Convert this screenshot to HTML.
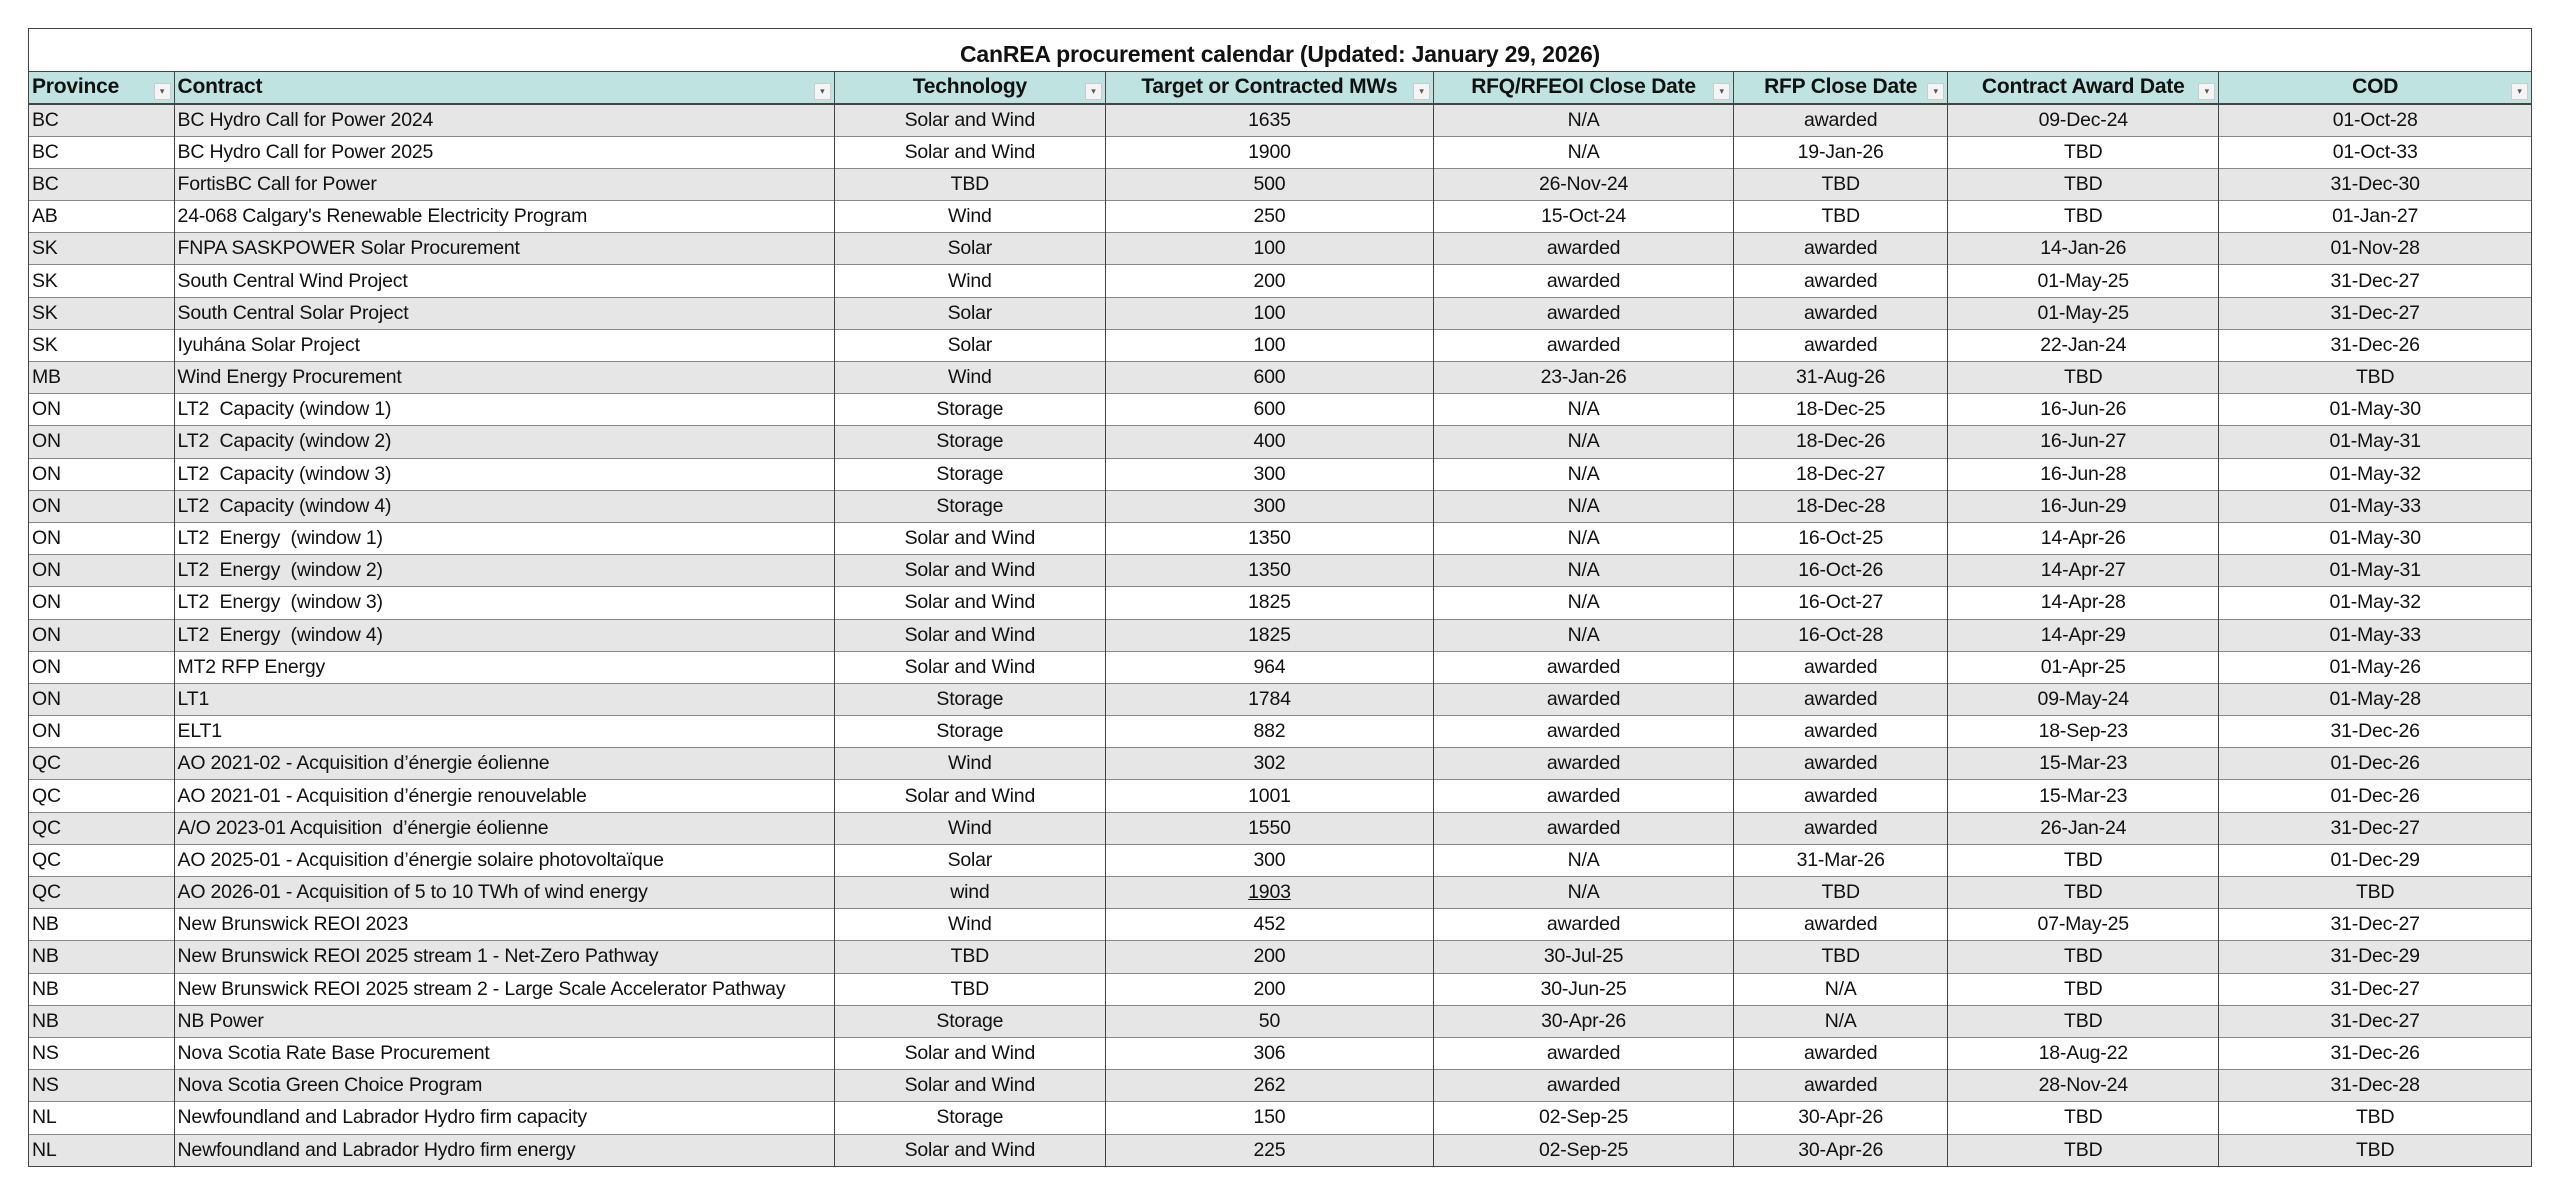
<!DOCTYPE html>
<html><head><meta charset="utf-8">
<style>
html,body{margin:0;padding:0;background:#fff;}
body{width:2560px;height:1202px;position:relative;overflow:hidden;font-family:"Liberation Sans",Arial,sans-serif;color:#111;}
#t{position:absolute;left:28px;top:28px;width:2504px;border:1.5px solid #444;box-sizing:border-box;}
table{border-collapse:collapse;table-layout:fixed;width:100%;}
td{height:32.2px;padding:0 3px;font-size:19.5px;white-space:nowrap;overflow:hidden;border-left:1px solid #444;border-top:1.5px solid #888;box-sizing:border-box;letter-spacing:-0.2px;}
td:first-child{border-left:none;}
td.c{text-align:center;}
tr.g td{background:#e6e6e6;}
.title td{height:42px;text-align:center;font-weight:bold;font-size:23px;border-top:none;border-left:none;padding-top:10px;}
.hd td{background:#bfe3e1;font-weight:bold;font-size:21px;height:33px;position:relative;border-top:1.5px solid #444;border-bottom:2px solid #444;}
.dd{position:absolute;right:3px;bottom:3px;width:15px;height:15px;background:#f4f4f4;border:1px solid #ccc;font-size:9px;line-height:15px;text-align:center;color:#555;font-weight:normal;}
</style></head><body>
<div id="t"><table>
<colgroup><col style="width:145px"><col style="width:660px"><col style="width:271px"><col style="width:328px"><col style="width:300px"><col style="width:214px"><col style="width:271px"><col style="width:312px"></colgroup>
<tr class="title"><td colspan="8">CanREA procurement calendar (Updated: January 29, 2026)</td></tr>
<tr class="hd"><td>Province<span class="dd">▾</span></td><td>Contract<span class="dd">▾</span></td><td class="c">Technology<span class="dd">▾</span></td><td class="c">Target or Contracted MWs<span class="dd">▾</span></td><td class="c">RFQ/RFEOI Close Date<span class="dd">▾</span></td><td class="c">RFP Close Date<span class="dd">▾</span></td><td class="c">Contract Award Date<span class="dd">▾</span></td><td class="c">COD<span class="dd">▾</span></td></tr>
<tr class="g"><td>BC</td><td>BC Hydro Call for Power 2024</td><td class="c">Solar and Wind</td><td class="c">1635</td><td class="c">N/A</td><td class="c">awarded</td><td class="c">09-Dec-24</td><td class="c">01-Oct-28</td></tr>
<tr><td>BC</td><td>BC Hydro Call for Power 2025</td><td class="c">Solar and Wind</td><td class="c">1900</td><td class="c">N/A</td><td class="c">19-Jan-26</td><td class="c">TBD</td><td class="c">01-Oct-33</td></tr>
<tr class="g"><td>BC</td><td>FortisBC Call for Power</td><td class="c">TBD</td><td class="c">500</td><td class="c">26-Nov-24</td><td class="c">TBD</td><td class="c">TBD</td><td class="c">31-Dec-30</td></tr>
<tr><td>AB</td><td>24-068 Calgary's Renewable Electricity Program</td><td class="c">Wind</td><td class="c">250</td><td class="c">15-Oct-24</td><td class="c">TBD</td><td class="c">TBD</td><td class="c">01-Jan-27</td></tr>
<tr class="g"><td>SK</td><td>FNPA SASKPOWER Solar Procurement</td><td class="c">Solar</td><td class="c">100</td><td class="c">awarded</td><td class="c">awarded</td><td class="c">14-Jan-26</td><td class="c">01-Nov-28</td></tr>
<tr><td>SK</td><td>South Central Wind Project</td><td class="c">Wind</td><td class="c">200</td><td class="c">awarded</td><td class="c">awarded</td><td class="c">01-May-25</td><td class="c">31-Dec-27</td></tr>
<tr class="g"><td>SK</td><td>South Central Solar Project</td><td class="c">Solar</td><td class="c">100</td><td class="c">awarded</td><td class="c">awarded</td><td class="c">01-May-25</td><td class="c">31-Dec-27</td></tr>
<tr><td>SK</td><td>Iyuhána Solar Project</td><td class="c">Solar</td><td class="c">100</td><td class="c">awarded</td><td class="c">awarded</td><td class="c">22-Jan-24</td><td class="c">31-Dec-26</td></tr>
<tr class="g"><td>MB</td><td>Wind Energy Procurement</td><td class="c">Wind</td><td class="c">600</td><td class="c">23-Jan-26</td><td class="c">31-Aug-26</td><td class="c">TBD</td><td class="c">TBD</td></tr>
<tr><td>ON</td><td>LT2&nbsp; Capacity (window 1)</td><td class="c">Storage</td><td class="c">600</td><td class="c">N/A</td><td class="c">18-Dec-25</td><td class="c">16-Jun-26</td><td class="c">01-May-30</td></tr>
<tr class="g"><td>ON</td><td>LT2&nbsp; Capacity (window 2)</td><td class="c">Storage</td><td class="c">400</td><td class="c">N/A</td><td class="c">18-Dec-26</td><td class="c">16-Jun-27</td><td class="c">01-May-31</td></tr>
<tr><td>ON</td><td>LT2&nbsp; Capacity (window 3)</td><td class="c">Storage</td><td class="c">300</td><td class="c">N/A</td><td class="c">18-Dec-27</td><td class="c">16-Jun-28</td><td class="c">01-May-32</td></tr>
<tr class="g"><td>ON</td><td>LT2&nbsp; Capacity (window 4)</td><td class="c">Storage</td><td class="c">300</td><td class="c">N/A</td><td class="c">18-Dec-28</td><td class="c">16-Jun-29</td><td class="c">01-May-33</td></tr>
<tr><td>ON</td><td>LT2&nbsp; Energy&nbsp; (window 1)</td><td class="c">Solar and Wind</td><td class="c">1350</td><td class="c">N/A</td><td class="c">16-Oct-25</td><td class="c">14-Apr-26</td><td class="c">01-May-30</td></tr>
<tr class="g"><td>ON</td><td>LT2&nbsp; Energy&nbsp; (window 2)</td><td class="c">Solar and Wind</td><td class="c">1350</td><td class="c">N/A</td><td class="c">16-Oct-26</td><td class="c">14-Apr-27</td><td class="c">01-May-31</td></tr>
<tr><td>ON</td><td>LT2&nbsp; Energy&nbsp; (window 3)</td><td class="c">Solar and Wind</td><td class="c">1825</td><td class="c">N/A</td><td class="c">16-Oct-27</td><td class="c">14-Apr-28</td><td class="c">01-May-32</td></tr>
<tr class="g"><td>ON</td><td>LT2&nbsp; Energy&nbsp; (window 4)</td><td class="c">Solar and Wind</td><td class="c">1825</td><td class="c">N/A</td><td class="c">16-Oct-28</td><td class="c">14-Apr-29</td><td class="c">01-May-33</td></tr>
<tr><td>ON</td><td>MT2 RFP Energy</td><td class="c">Solar and Wind</td><td class="c">964</td><td class="c">awarded</td><td class="c">awarded</td><td class="c">01-Apr-25</td><td class="c">01-May-26</td></tr>
<tr class="g"><td>ON</td><td>LT1</td><td class="c">Storage</td><td class="c">1784</td><td class="c">awarded</td><td class="c">awarded</td><td class="c">09-May-24</td><td class="c">01-May-28</td></tr>
<tr><td>ON</td><td>ELT1</td><td class="c">Storage</td><td class="c">882</td><td class="c">awarded</td><td class="c">awarded</td><td class="c">18-Sep-23</td><td class="c">31-Dec-26</td></tr>
<tr class="g"><td>QC</td><td>AO 2021-02 - Acquisition d’énergie éolienne</td><td class="c">Wind</td><td class="c">302</td><td class="c">awarded</td><td class="c">awarded</td><td class="c">15-Mar-23</td><td class="c">01-Dec-26</td></tr>
<tr><td>QC</td><td>AO 2021-01 - Acquisition d’énergie renouvelable</td><td class="c">Solar and Wind</td><td class="c">1001</td><td class="c">awarded</td><td class="c">awarded</td><td class="c">15-Mar-23</td><td class="c">01-Dec-26</td></tr>
<tr class="g"><td>QC</td><td>A/O 2023-01 Acquisition&nbsp; d’énergie éolienne</td><td class="c">Wind</td><td class="c">1550</td><td class="c">awarded</td><td class="c">awarded</td><td class="c">26-Jan-24</td><td class="c">31-Dec-27</td></tr>
<tr><td>QC</td><td>AO 2025-01 - Acquisition d’énergie solaire photovoltaïque</td><td class="c">Solar</td><td class="c">300</td><td class="c">N/A</td><td class="c">31-Mar-26</td><td class="c">TBD</td><td class="c">01-Dec-29</td></tr>
<tr class="g"><td>QC</td><td>AO 2026-01 - Acquisition of 5 to 10 TWh of wind energy</td><td class="c">wind</td><td class="c"><u>1903</u></td><td class="c">N/A</td><td class="c">TBD</td><td class="c">TBD</td><td class="c">TBD</td></tr>
<tr><td>NB</td><td>New Brunswick REOI 2023</td><td class="c">Wind</td><td class="c">452</td><td class="c">awarded</td><td class="c">awarded</td><td class="c">07-May-25</td><td class="c">31-Dec-27</td></tr>
<tr class="g"><td>NB</td><td>New Brunswick REOI 2025 stream 1 - Net-Zero Pathway</td><td class="c">TBD</td><td class="c">200</td><td class="c">30-Jul-25</td><td class="c">TBD</td><td class="c">TBD</td><td class="c">31-Dec-29</td></tr>
<tr><td>NB</td><td>New Brunswick REOI 2025 stream 2 - Large Scale Accelerator Pathway</td><td class="c">TBD</td><td class="c">200</td><td class="c">30-Jun-25</td><td class="c">N/A</td><td class="c">TBD</td><td class="c">31-Dec-27</td></tr>
<tr class="g"><td>NB</td><td>NB Power</td><td class="c">Storage</td><td class="c">50</td><td class="c">30-Apr-26</td><td class="c">N/A</td><td class="c">TBD</td><td class="c">31-Dec-27</td></tr>
<tr><td>NS</td><td>Nova Scotia Rate Base Procurement</td><td class="c">Solar and Wind</td><td class="c">306</td><td class="c">awarded</td><td class="c">awarded</td><td class="c">18-Aug-22</td><td class="c">31-Dec-26</td></tr>
<tr class="g"><td>NS</td><td>Nova Scotia Green Choice Program</td><td class="c">Solar and Wind</td><td class="c">262</td><td class="c">awarded</td><td class="c">awarded</td><td class="c">28-Nov-24</td><td class="c">31-Dec-28</td></tr>
<tr><td>NL</td><td>Newfoundland and Labrador Hydro firm capacity</td><td class="c">Storage</td><td class="c">150</td><td class="c">02-Sep-25</td><td class="c">30-Apr-26</td><td class="c">TBD</td><td class="c">TBD</td></tr>
<tr class="g"><td>NL</td><td>Newfoundland and Labrador Hydro firm energy</td><td class="c">Solar and Wind</td><td class="c">225</td><td class="c">02-Sep-25</td><td class="c">30-Apr-26</td><td class="c">TBD</td><td class="c">TBD</td></tr>
</table></div>
</body></html>
